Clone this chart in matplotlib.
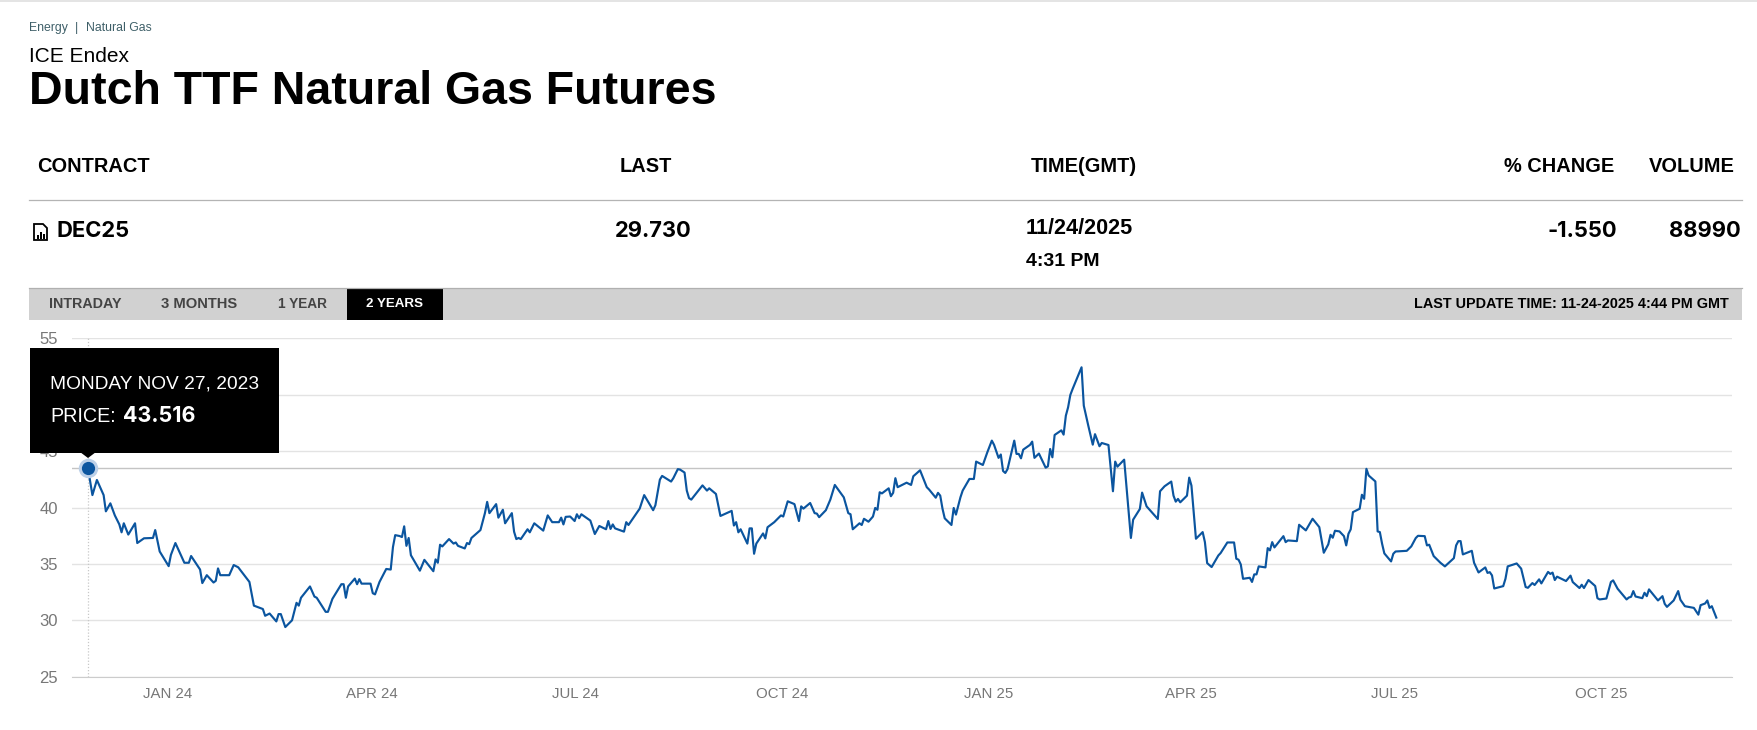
import matplotlib
matplotlib.use('Agg')
import matplotlib.pyplot as plt
import matplotlib.dates as mdates
from matplotlib.patches import Rectangle, Polygon
from matplotlib.transforms import ScaledTranslation
import pandas as pd

plt.rcParams['font.family'] = ['Liberation Sans', 'DejaVu Sans']

START = '2023-11-27'

# days since START and price
days_a = [0, 2, 4, 7, 8, 10, 12, 14, 15, 16, 18, 21, 22, 25, 29, 30, 32, 36, 37, 39, 43, 45, 46, 50, 51, 53, 56, 57, 58, 59,
          63, 65, 67, 72, 74, 78, 79, 81, 84, 85, 86, 88, 91, 93, 94, 95, 99, 101, 102, 106, 107, 109, 113, 114, 115, 116,
          119, 120, 121, 122, 126, 127, 128, 130, 133, 135, 136, 137]
prices_a = [43.516, 41.1, 42.44, 41.1, 39.66, 40.37, 39.3, 38.5, 37.8, 38.6, 37.6, 38.6, 36.85, 37.27, 37.3, 38.0, 36.1, 34.8, 35.8, 36.85, 35.1, 35.1, 35.7, 34.5, 33.3, 34.0, 33.35, 33.5, 34.6, 34.0,
            34.0, 34.9, 34.7, 33.4, 31.3, 31.0, 30.4, 30.6, 29.9, 30.55, 30.55, 29.4, 30.0, 31.55, 31.3, 32.0, 33.0, 32.1, 32.0, 30.75, 30.75, 31.9, 33.2, 33.2, 32.0, 33.0,
            33.7, 33.2, 33.65, 33.25, 33.25, 32.4, 32.3, 33.4, 34.55, 34.5, 36.5, 37.55]

days_b = [139, 140, 141, 142, 143, 144, 148, 150, 154, 155, 156, 157, 158, 161, 163, 164, 165, 168, 169, 170, 171, 175, 177, 178, 179,
          182, 183, 185, 186, 189, 190, 191, 192, 193, 196, 197, 199, 203, 205, 207, 210, 211, 212, 213, 215, 217, 218, 219]
prices_b = [37.47, 37.38, 38.33, 36.6, 37.3, 35.77, 34.4, 35.36, 34.35, 35.4, 35.1, 36.7, 36.55, 37.2, 36.8, 36.9, 36.6, 36.37, 36.85, 36.75, 37.3, 38.0, 39.5, 40.5, 39.5,
            40.3, 39.1, 39.8, 38.6, 39.5, 37.85, 37.2, 37.3, 37.2, 38.07, 37.8, 38.6, 37.95, 39.3, 38.7, 38.7, 39.1, 38.5, 39.17, 39.2, 38.8, 39.4, 39.05]

days_c = [220, 224, 226, 228, 231, 232, 233, 234, 235, 239, 240, 241, 246, 248, 252, 253, 255, 256, 260, 261, 263, 264, 266, 267, 268, 269,
          271, 274, 276, 277, 280, 282, 287, 288, 289, 290, 291, 294, 295, 296, 297, 298, 301, 302, 303, 306, 308, 309, 310, 312,
          315, 317, 318, 319, 322, 324, 325, 326, 329, 331, 333, 337, 339, 340, 341, 344]
prices_c = [39.4, 38.84, 37.65, 38.36, 38.07, 38.8, 38.1, 38.5, 38.15, 37.86, 38.7, 38.45, 39.9, 41.1, 39.76, 40.2, 42.47, 42.8, 42.3, 42.6, 43.4, 43.36, 43.1, 41.5, 40.83, 40.7,
            41.2, 41.96, 41.5, 41.7, 41.2, 39.25, 39.7, 38.4, 38.7, 37.8, 38.07, 36.8, 38.15, 38.15, 35.9, 36.8, 37.7, 37.26, 38.25, 38.7, 39.1, 39.3, 39.2, 40.55,
            40.3, 38.8, 40.1, 39.9, 40.4, 39.5, 39.46, 39.14, 39.76, 40.7, 42.0, 40.9, 39.5, 39.4, 38.07, 38.6]

days_d = [345, 346, 348, 350, 351, 352, 353, 354, 357, 358, 359, 360, 361, 365, 367, 368, 371, 374, 375, 378, 379, 380, 381, 382, 385, 386, 387,
          389, 390, 393, 395, 396, 399, 401, 403, 404, 406, 407, 408, 409, 410, 413, 414, 415, 416, 417, 420, 421, 422, 424, 427, 428, 429, 430, 431,
          434, 435, 436, 437, 438, 439, 443, 444, 446, 448, 449, 451, 452, 455, 457, 458, 459, 462, 465, 466, 469, 470, 472, 477, 478, 480,
          483, 484, 485, 486, 487, 490, 491, 492]
prices_d = [38.45, 39.0, 38.74, 39.2, 39.96, 39.8, 41.35, 41.25, 41.7, 41.0, 41.3, 42.6, 41.8, 42.2, 42.0, 42.77, 43.3, 41.8, 41.6, 40.87, 41.3, 41.05, 39.9, 39.04, 38.45, 39.96, 39.37,
            40.9, 41.5, 42.53, 42.53, 44.07, 43.77, 44.9, 45.93, 45.55, 44.4, 44.7, 43.24, 43.06, 43.4, 45.93, 44.75, 44.75, 44.36, 45.13, 45.55, 45.84, 44.4, 44.78, 43.53, 43.65, 45.19, 44.45, 46.43,
            46.84, 46.46, 48.14, 48.88, 49.98, 50.5, 52.43, 49.03, 47.26, 45.57, 46.5, 45.43, 45.72, 45.54, 41.44, 44.07, 43.62, 44.24, 37.3, 38.92, 39.87, 41.32, 40.1, 38.98, 41.44, 41.88,
            42.3, 41.05, 40.52, 40.76, 40.46, 41.05, 42.65, 41.94]

days_e = [494, 497, 498, 499, 501, 504, 505, 508, 511, 512, 513, 514, 515, 518, 519, 520, 521, 522, 525, 526, 527, 528, 529, 533, 534, 535, 539, 540, 543,
          546, 549, 551, 553, 554, 555, 556, 558, 560, 561, 562, 563, 564, 567, 568, 569, 570, 571, 574, 575, 576, 577, 578, 581, 582, 583,
          588, 590, 592, 593, 596, 597, 598, 600, 603, 605, 609, 610, 611, 612, 613, 617, 618, 620, 623, 624, 625, 626, 627, 631, 632, 633, 637]
prices_e = [37.23, 37.82, 36.93, 35.07, 34.72, 35.75, 35.96, 36.9, 36.9, 35.46, 35.37, 34.95, 33.68, 33.77, 33.4, 34.07, 34.07, 34.78, 34.69, 36.4, 36.2, 36.93, 36.46, 37.46, 36.93, 37.08, 37.02, 38.47, 37.97,
            39.0, 38.26, 35.99, 36.73, 37.58, 37.32, 37.94, 37.88, 37.46, 36.64, 37.67, 38.06, 39.59, 39.89, 41.13, 40.77, 43.43, 42.84, 42.31, 37.88, 37.82, 36.78, 35.93, 35.22, 35.9, 36.1,
            36.16, 36.55, 37.29, 37.49, 37.46, 36.64, 36.7, 35.69, 35.1, 34.78, 35.51, 36.64, 37.02, 37.02, 35.84, 36.16, 35.1, 34.24, 34.69, 34.2, 34.27, 33.98, 32.82, 33.03, 33.68, 34.78, 35.04]

days_f = [639, 641, 642, 644, 645, 647, 648, 651, 652, 653, 654, 655, 659, 661, 662, 665, 666, 667, 669, 672, 673, 674, 677, 679, 680, 682,
          686, 687, 688, 689, 690, 693, 694, 695, 696, 700, 702, 703, 704, 707, 709, 710, 712, 716, 718, 719, 721, 722, 723, 724, 726]
prices_f = [34.58, 32.95, 32.88, 33.3, 33.13, 33.63, 33.27, 34.29, 34.11, 34.23, 33.57, 33.87, 33.48, 33.96, 33.39, 32.86, 33.15, 32.86, 33.57, 33.04, 31.96, 31.85, 31.93, 33.39, 33.54, 32.8,
            31.85, 32.02, 32.08, 32.59, 32.11, 31.96, 32.44, 32.14, 32.74, 31.76, 32.14, 31.46, 31.19, 31.76, 32.59, 31.82, 31.25, 31.1, 30.5, 31.34, 31.49, 31.76, 31.1, 31.25, 30.24]

y_ticks = [25, 30, 35, 40, 45, 50, 55]
x_tick_dates = ['2024-01-01', '2024-04-01', '2024-07-01', '2024-10-01', '2025-01-01', '2025-04-01', '2025-07-01', '2025-10-01']
x_tick_labels = ['JAN 24', 'APR 24', 'JUL 24', 'OCT 24', 'JAN 25', 'APR 25', 'JUL 25', 'OCT 25']
tabs = ['INTRADAY', '3 MONTHS', '1 YEAR']

W, H = 1757, 730
LINE_BLUE = '#0b559f'
WIDE = ['Inter', 'Liberation Sans', 'DejaVu Sans']

days = days_a + days_b + days_c + days_d + days_e + days_f
prices = prices_a + prices_b + prices_c + prices_d + prices_e + prices_f
dates = pd.Timestamp(START) + pd.to_timedelta(days, unit='D')

fig = plt.figure(figsize=(W / 100, H / 100), dpi=100, facecolor='white')


def page_axes(zorder):
    ax = fig.add_axes([0, 0, 1, 1], zorder=zorder)
    ax.set_xlim(0, W)
    ax.set_ylim(H, 0)
    ax.axis('off')
    return ax


page = page_axes(0)
top = page_axes(2)

# page header
page.add_patch(Rectangle((0, 0), W, 1.5, color='#e4e4e4', lw=0))
page.text(29, 28, 'Energy', fontsize=8.8, color='#3e5f68', va='center')
page.text(75, 27.5, '|', fontsize=8.8, color='#3e5f68', va='center')
page.text(86, 28, 'Natural Gas', fontsize=8.8, color='#3e5f68', va='center')
page.text(29, 56, 'ICE Endex', fontsize=15, color='black', va='center')
page.text(29, 92.5, 'Dutch TTF Natural Gas Futures', fontsize=33.5, color='black', va='center', fontweight='bold')

# quote table
for x, label, ha in [(37, 'CONTRACT', 'left'), (620, 'LAST', 'left'), (1031, 'TIME(GMT)', 'left'),
                     (1614, '% CHANGE', 'right'), (1735, 'VOLUME', 'right')]:
    page.text(x, 166, label, fontsize=14.4, fontweight='bold', color='black', va='center', ha=ha)
page.plot([29, 1742], [200, 200], color='#b4b4b4', lw=0.9)
for x, label, ha in [(56, 'DEC25', 'left'), (615, '29.730', 'left'), (1617, '-1.550', 'right'), (1741, '88990', 'right')]:
    page.text(x, 231, label, fontsize=15.8, fontweight='bold', family=WIDE, color='black', va='center', ha=ha)
page.text(1026, 229, '11/24/2025', fontsize=15.6, fontweight='bold', color='black', va='center')
page.text(1026, 262, '4:31 PM', fontsize=14, fontweight='bold', color='black', va='center')

# contract sheet icon
page.add_patch(Polygon([(34, 224), (43, 224), (47, 228), (47, 240), (34, 240)], closed=True, fill=False, ec='black', lw=1.3))
for x, y in [(37, 235), (40, 232), (43, 234)]:
    page.add_patch(Rectangle((x, y), 1.5, 238.5 - y, color='black', lw=0))

# range tabs
page.add_patch(Rectangle((29, 287.5), 1713, 32, color='#d1d1d1', lw=0))
page.plot([29, 1742], [288, 288], color='#b0b0b0', lw=0.9)
page.add_patch(Rectangle((347, 288.5), 95.5, 31, color='black', lw=0))
for x, label, size in zip([49, 161, 278], tabs, [10.3, 10.6, 9.8]):
    page.text(x, 304, label, fontsize=size, fontweight='bold', color='#444444', va='center')
page.text(395, 304, '2 YEARS', fontsize=9.6, fontweight='bold', color='white', va='center', ha='center')
page.text(1729, 304, 'LAST UPDATE TIME: 11-24-2025 4:44 PM GMT', fontsize=10.4, fontweight='bold', color='black', va='center', ha='right')

# price chart, axes placed so 55 and 25 fall on the gridlines of the page
ax = fig.add_axes([72 / W, 1 - 676.7 / H, (1732 - 72) / W, (676.7 - 338.3) / H], zorder=1)
ax.patch.set_alpha(0)
x0 = pd.Timestamp(START) - pd.Timedelta(days=7.1)
x1 = pd.Timestamp(START) + pd.Timedelta(days=733)
ax.set_xlim(mdates.date2num(x0), mdates.date2num(x1))
ax.set_ylim(25, 55)
ax.set_yticks(y_ticks)
ax.set_xticks(mdates.date2num(pd.to_datetime(x_tick_dates)))
ax.set_xticklabels(x_tick_labels)
ax.tick_params(axis='both', length=0, labelcolor='#777777')
ax.tick_params(axis='y', labelsize=12, pad=10)
ax.tick_params(axis='x', labelsize=10.8, pad=7.5)
for lab in ax.get_xticklabels():
    lab.set_transform(lab.get_transform() + ScaledTranslation(1.2 / 100, 0, fig.dpi_scale_trans))
ax.grid(axis='y', color='#e3e3e3', lw=1)
ax.set_axisbelow(True)
for side in ['top', 'right', 'left']:
    ax.spines[side].set_visible(False)
ax.spines['bottom'].set_color('#cccccc')

ax.plot(dates, prices, color=LINE_BLUE, lw=1.55, solid_joinstyle='round', zorder=3)

# hover state on the first point
ax.axhline(prices[0], color='#c4c4c4', lw=1.0, zorder=2)
ax.axvline(dates[0], color='#c8c8c8', lw=0.9, ls=(0, (1, 1.5)), zorder=2)
ax.plot([dates[0]], [prices[0]], 'o', ms=14, color='#bcd0e8', mew=0, zorder=4, clip_on=False)
ax.plot([dates[0]], [prices[0]], 'o', ms=9.5, color=LINE_BLUE, mew=0, zorder=5, clip_on=False)

# tooltip
top.add_patch(Rectangle((30, 348), 249, 104.5, color='black', lw=0))
top.add_patch(Polygon([(80, 452), (96, 452), (88, 458)], closed=True, color='black', lw=0))
top.text(50, 384, 'MONDAY NOV 27, 2023', fontsize=13.75, color='white', va='center')
top.text(50, 416, 'PRICE:', fontsize=14.2, color='white', va='center')
top.text(123, 415.5, f'{prices[0]:.3f}', fontsize=15.5, fontweight='bold', family=WIDE, color='white', va='center')

fig.savefig('out.png', dpi=100)
